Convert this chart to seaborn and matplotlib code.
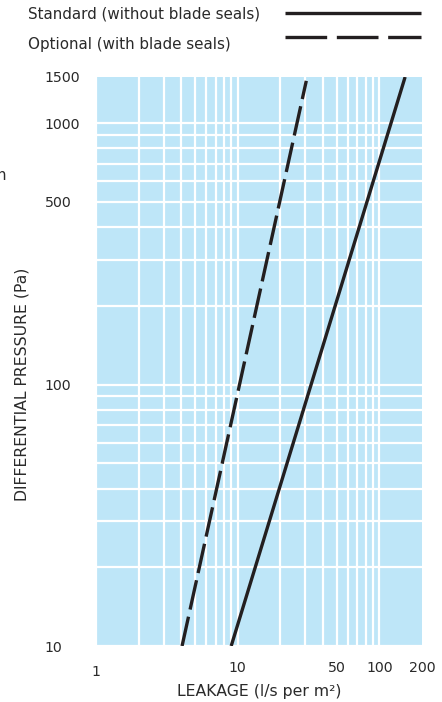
import matplotlib
matplotlib.use("Agg")
import matplotlib.pyplot as plt
from matplotlib.lines import Line2D
from matplotlib import ticker
import seaborn as sns
import pandas as pd

# Leakage curves (log-log straight lines)
pressure_std = [10, 1500]
leakage_std = [9.0, 152]
pressure_opt = [10, 1450]
leakage_opt = [4.05, 30.5]

series_names = ["Standard (without blade seals)", "Optional (with blade seals)"]
x_ticks = [1, 10, 50, 100, 200]
x_tick_labels = ["1", "10", "50", "100", "200"]
y_ticks = [10, 100, 500, 1000, 1500]
y_tick_labels = ["10", "100", "500", "1000", "1500"]

sns.set_theme(style="white")
plt.rcParams["font.family"] = ["DejaVu Sans"]

TEXT = "#2a2a2a"
INK = "#231f20"
BG = "#bee6f8"
FS_TICK = 10.2
FS_LEG = 10.9
FS_LAB = 11.3

fig = plt.figure(figsize=(4.42, 7.02), dpi=100)
ax = fig.add_axes([96 / 442, 1 - 646 / 702, 326 / 442, 569 / 702])
ax.set_facecolor(BG)

df_std = pd.DataFrame({"leakage": leakage_std, "pressure": pressure_std})
df_opt = pd.DataFrame({"leakage": leakage_opt, "pressure": pressure_opt})

ax.set_xscale("log")
ax.set_yscale("log")
ax.set_xlim(1, 200)
ax.set_ylim(10, 1500)

sns.lineplot(data=df_std, x="leakage", y="pressure", ax=ax, color=INK,
             linewidth=2.4, zorder=3)
ax.lines[-1].set_solid_capstyle("butt")
sns.lineplot(data=df_opt, x="leakage", y="pressure", ax=ax, color=INK,
             linewidth=2.4, zorder=3)
line_opt = ax.lines[-1]
line_opt.set_dashes((9, 2.2))
line_opt.set_dash_capstyle("butt")

for s in ax.spines.values():
    s.set_visible(False)

# x axis ticks and labels
ax.set_xticks(x_ticks)
ax.set_xticklabels(x_tick_labels, fontsize=FS_TICK, color=TEXT)
ax.xaxis.set_minor_locator(ticker.LogLocator(base=10, subs=range(2, 10)))
ax.xaxis.set_minor_formatter(ticker.NullFormatter())
ax.tick_params(axis="x", which="major", length=0, pad=11)
xt = ax.xaxis.get_major_ticks()
xt[-1].tick1line.set_markersize(7)
xt[-1].tick1line.set_markeredgewidth(1.6)
xt[-1].tick1line.set_color(INK)
xt[0].set_pad(14)

# y axis ticks and labels
ax.set_yticks(y_ticks)
ax.set_yticklabels(y_tick_labels, fontsize=FS_TICK, color=TEXT)
ax.yaxis.set_minor_locator(ticker.LogLocator(base=10, subs=range(2, 10)))
ax.yaxis.set_minor_formatter(ticker.NullFormatter())
ax.tick_params(axis="y", which="major", length=0, pad=37)
ax.tick_params(axis="both", which="minor", length=0)
for lab in ax.get_yticklabels():
    lab.set_horizontalalignment("left")

ax.grid(which="both", color="white", linewidth=1.6)
ax.set_axisbelow(True)
# no gridline at the 1500 top edge or the 200 right edge
ax.yaxis.get_major_ticks()[-1].gridline.set_visible(False)
ax.xaxis.get_major_ticks()[-1].gridline.set_visible(False)

ax.set_xlabel("LEAKAGE (l/s per m²)", fontsize=FS_LAB, color=TEXT, labelpad=3)
ax.set_ylabel("DIFFERENTIAL PRESSURE (Pa)", fontsize=FS_LAB, color=TEXT)
ax.yaxis.set_label_coords(-66 / 326, 262 / 569)

# legend drawn at the top of the figure
fig.text(28 / 442, 1 - 14 / 702, series_names[0], fontsize=FS_LEG, color=TEXT,
         ha="left", va="center")
fig.text(28 / 442, 1 - 44 / 702, series_names[1], fontsize=FS_LEG, color=TEXT,
         ha="left", va="center")
fig.add_artist(Line2D([285 / 442, 421 / 442], [1 - 13 / 702, 1 - 13 / 702],
                      color=INK, linewidth=2.4, solid_capstyle="butt"))
fig.add_artist(Line2D([285 / 442, 421 / 442], [1 - 37 / 702, 1 - 37 / 702],
                      color=INK, linewidth=2.4, dashes=(12.5, 2.9),
                      dash_capstyle="butt"))

# truncated side caption
fig.text(6 / 442, 1 - 175 / 702, "n", fontsize=FS_LEG, color=TEXT, ha="right", va="center")

fig.savefig("out.png", dpi=100)
